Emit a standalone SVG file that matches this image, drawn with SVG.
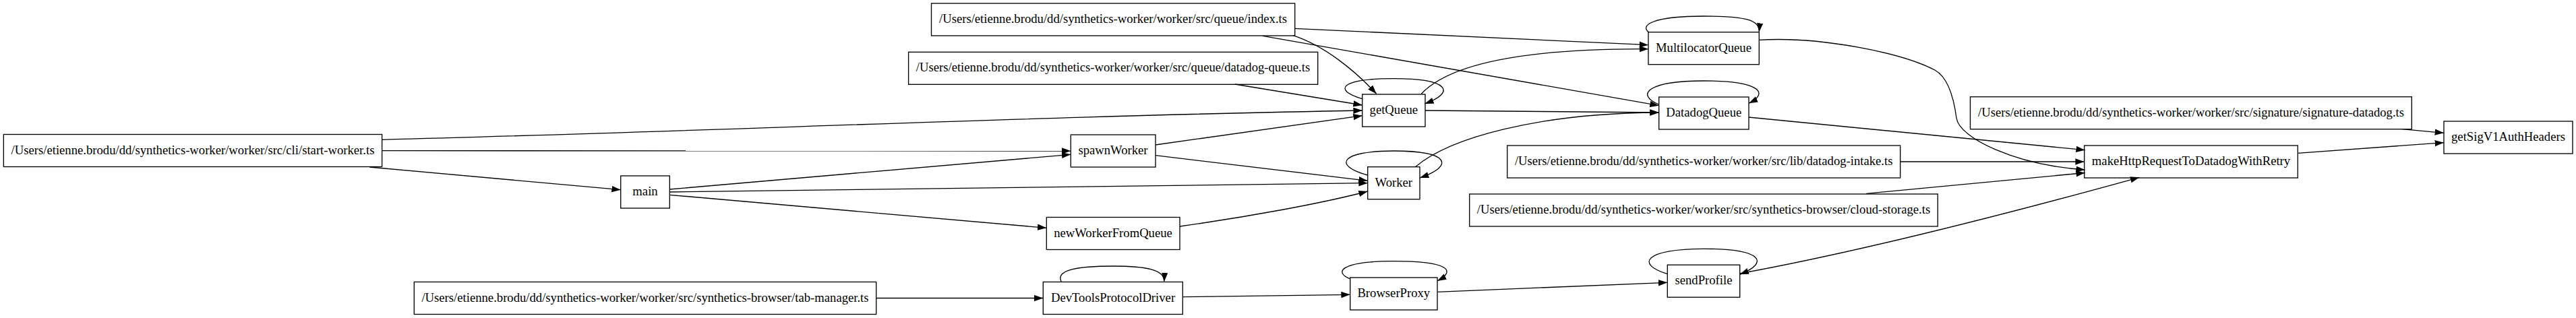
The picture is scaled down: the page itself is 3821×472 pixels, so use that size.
<svg xmlns="http://www.w3.org/2000/svg" width="3821" height="472" viewBox="0 0 3821 472">
<style>
.node rect{fill:none;stroke:#000;stroke-width:1.33}
.node text{font-family:"Liberation Serif","Times New Roman",serif;font-size:18.67px;text-anchor:middle;fill:#000}
.edge path{fill:none;stroke:#000;stroke-width:1.33;marker-end:url(#arrow)}
</style>
<defs>
<marker id="arrow" markerUnits="userSpaceOnUse" markerWidth="14" markerHeight="10" refX="13.33" refY="4.67" orient="auto">
<path d="M0,0 L13.33,4.67 L0,9.33 Z" fill="#000"/>
</marker>
</defs>
<rect x="0" y="0" width="3821" height="472" fill="#fff"/>
<g id="edges" class="edge">
<path d="M548.3,248 L920.7,281.7"/>
<path d="M566.7,223.7 L1588.3,224"/>
<path d="M566.7,207.3 C1050,195 1550,172 2020.7,164"/>
<path d="M993.3,281 L1588.3,229.3"/>
<path d="M993.3,285 L2028.7,271.7"/>
<path d="M993.3,289.3 L1552.3,338.3"/>
<path d="M1714,215 L2020.7,171.7"/>
<path d="M1714,230.7 L2028.7,268.3"/>
<path d="M1750,336 C1850,322 1960,302 2028.7,284"/>
<path d="M1918,52.7 C1965,68 2010,105 2041.7,139.3"/>
<path d="M1920.7,42.3 L2445,66.7"/>
<path d="M1873.3,53.3 C2100,92 2300,128 2460.7,156.7"/>
<path d="M1831.7,125 L2020.7,156"/>
<path d="M2108.3,139.3 C2150,95 2260,72 2445,72.7"/>
<path d="M2114,164 L2460.7,167"/>
<path d="M2100,247.3 C2150,205 2280,168 2460.7,167"/>
<path d="M2609.3,59.3 C2700,54 2820,78 2870,104 C2890,115 2898,145 2902,175 C2906,205 2990,245 3092.7,252"/>
<path d="M2594,174 L3092.7,222.7"/>
<path d="M2818.7,240 L3091.7,240"/>
<path d="M2768.3,287.3 L3092.7,256.5"/>
<path d="M2580.7,406 C2750,375 2950,325 3173.3,263.3"/>
<path d="M2132,433.3 L2473.3,419.3"/>
<path d="M1754.3,440.7 L2002.7,437.3"/>
<path d="M1299.7,442.5 L1547.3,442.5"/>
<path d="M3563.3,191.7 L3625,197.3"/>
<path d="M3408.3,227.3 L3625,211.7"/>
<path d="M2020.7,146.7 C1975,133 1990,116.7 2067,116.7 C2150,116.7 2160,137 2113.3,154"/>
<path d="M2028.7,260 C1975,245 1990,224 2067,224 C2150,224 2158,246 2106,264"/>
<path d="M2003,414 C1978,404 1988,387.7 2067,387.7 C2150,387.7 2160,402 2132,417"/>
<path d="M1574.3,418.3 C1565,400 1600,395 1651,395 C1700,395 1728,400 1726.7,418.3"/>
<path d="M2446,48 C2432,38 2450,24 2527,24 C2590,24 2611,30 2609.3,47.7"/>
<path d="M2460.7,155 C2425,140 2445,120 2527,120 C2610,120 2625,138 2594,153.3"/>
<path d="M2473.3,406.7 C2425,392 2440,369.3 2527,369.3 C2615,369.3 2625,390 2580.7,407.3"/>
</g>
<g id="n_start" class="node"><rect x="5.33" y="199.5" width="561.3" height="48"/><text x="286" y="228.5">/Users/etienne.brodu/dd/synthetics-worker/worker/src/cli/start-worker.ts</text></g>
<g id="n_main" class="node"><rect x="920.7" y="261" width="72.6" height="48"/><text x="957" y="290">main</text></g>
<g id="n_tab" class="node"><rect x="614.3" y="418.5" width="685.4" height="48"/><text x="957" y="447.5">/Users/etienne.brodu/dd/synthetics-worker/worker/src/synthetics-browser/tab-manager.ts</text></g>
<g id="n_index" class="node"><rect x="1381.5" y="5" width="539.2" height="48"/><text x="1651" y="34">/Users/etienne.brodu/dd/synthetics-worker/worker/src/queue/index.ts</text></g>
<g id="n_dq" class="node"><rect x="1347.6" y="77.3" width="607.1" height="48"/><text x="1651" y="106.3">/Users/etienne.brodu/dd/synthetics-worker/worker/src/queue/datadog-queue.ts</text></g>
<g id="n_spawn" class="node"><rect x="1588.3" y="200" width="125.7" height="48"/><text x="1651" y="229">spawnWorker</text></g>
<g id="n_newWorker" class="node"><rect x="1552.3" y="322.5" width="197.7" height="48"/><text x="1651" y="351.5">newWorkerFromQueue</text></g>
<g id="n_devtools" class="node"><rect x="1547.3" y="418.5" width="207" height="48"/><text x="1651" y="447.5">DevToolsProtocolDriver</text></g>
<g id="n_getQueue" class="node"><rect x="2020.7" y="140" width="93.3" height="48"/><text x="2067.3" y="169">getQueue</text></g>
<g id="n_worker" class="node"><rect x="2028.7" y="247.7" width="77.3" height="48"/><text x="2067.3" y="276.7">Worker</text></g>
<g id="n_browserProxy" class="node"><rect x="2002.7" y="412" width="129.3" height="48"/><text x="2067.3" y="441">BrowserProxy</text></g>
<g id="n_multi" class="node"><rect x="2445" y="47.7" width="164.3" height="48"/><text x="2527" y="76.7">MultilocatorQueue</text></g>
<g id="n_ddq" class="node"><rect x="2460.7" y="144" width="133.3" height="48"/><text x="2527.3" y="173">DatadogQueue</text></g>
<g id="n_intake" class="node"><rect x="2235.7" y="216" width="583" height="48"/><text x="2527.2" y="245">/Users/etienne.brodu/dd/synthetics-worker/worker/src/lib/datadog-intake.ts</text></g>
<g id="n_cloud" class="node"><rect x="2179.7" y="288" width="694.6" height="48"/><text x="2527" y="317">/Users/etienne.brodu/dd/synthetics-worker/worker/src/synthetics-browser/cloud-storage.ts</text></g>
<g id="n_sendProfile" class="node"><rect x="2473.3" y="393.2" width="107.4" height="48"/><text x="2527" y="422.2">sendProfile</text></g>
<g id="n_signature" class="node"><rect x="2922.5" y="143.7" width="654.8" height="48"/><text x="3250" y="172.7">/Users/etienne.brodu/dd/synthetics-worker/worker/src/signature/signature-datadog.ts</text></g>
<g id="n_makeHttp" class="node"><rect x="3091.7" y="216" width="316.6" height="48"/><text x="3250" y="245">makeHttpRequestToDatadogWithRetry</text></g>
<g id="n_getSig" class="node"><rect x="3625" y="180" width="191" height="48"/><text x="3720.5" y="209">getSigV1AuthHeaders</text></g>
</svg>
